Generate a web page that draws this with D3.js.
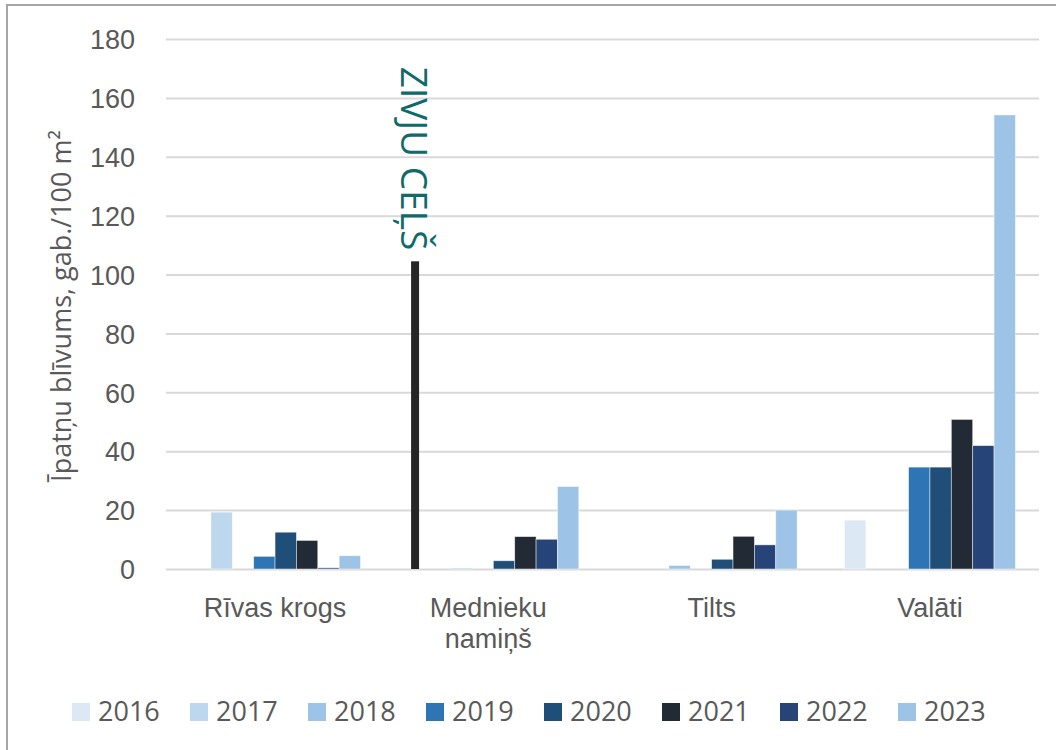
<!DOCTYPE html>
<html>
<head>
<meta charset="utf-8">
<script src="https://cdn.jsdelivr.net/npm/d3@7"></script>
<style>
  body { margin: 0; background: #fff; }
  svg { font-family: "Open Sans", sans-serif; }
</style>
</head>
<body>
<svg id="chart" width="1056" height="750"></svg>
<script>
const categories = ["Rīvas krogs", "Mednieku namiņš", "Tilts", "Valāti"];
const years = ["2016", "2017", "2018", "2019", "2020", "2021", "2022", "2023"];
const yTicks = [0, 20, 40, 60, 80, 100, 120, 140, 160, 180];

// values per year, in category order
const v2016 = [0, 0, 0, 16.6];
const v2017 = [19.3, 0, 0, 0];
const v2018 = [0, 0.3, 1.2, 0];
const v2019 = [4.3, 0, 0, 34.6];
const v2020 = [12.5, 2.8, 3.3, 34.6];
const v2021 = [9.7, 11.0, 11.1, 50.8];
const v2022 = [0.4, 10.1, 8.2, 41.9];
const v2023 = [4.5, 28.0, 20.0, 154.2];

// fish pass marker (drawn line) in "Mednieku namiņš"
const markerLabel = "ZIVJU CEĻŠ";
const markerValue = 104.5;

const colors = ["#dde8f5", "#bdd7ee", "#9dc3e6", "#2e75b6", "#1f4e79", "#222a35", "#264478", "#9dc3e6"];

const seriesValues = [v2016, v2017, v2018, v2019, v2020, v2021, v2022, v2023];

const svg = d3.select("#chart"),
  margin = { top: 39, right: 17, bottom: 181, left: 166 },
  width = +svg.attr("width") - margin.left - margin.right,
  height = +svg.attr("height") - margin.top - margin.bottom;

// outer frame
svg.append("rect")
  .attr("x", 7).attr("y", 5)
  .attr("width", 1070).attr("height", 780)
  .attr("fill", "none")
  .attr("stroke", "#a6a6a6")
  .attr("stroke-width", 2);

const chart = svg.append("g")
  .attr("transform", `translate(${margin.left},${margin.top})`);

const x0 = d3.scaleBand().domain(categories).range([0, width])
  .paddingInner(0.217).paddingOuter(0.108);
const x1 = d3.scaleBand().domain(years).range([0, x0.bandwidth()]);
const y = d3.scaleLinear().domain([0, 180]).range([height, 0]);

// grid + y labels
const yAxis = chart.append("g")
  .call(d3.axisLeft(y).tickValues(yTicks).tickSize(-width).tickPadding(31));
yAxis.select(".domain").remove();
yAxis.selectAll(".tick line").attr("stroke", "#d9d9d9").attr("stroke-width", 2);
yAxis.selectAll(".tick text")
  .attr("fill", "#595959")
  .style("font-size", "27px")
  .attr("dy", "0.36em");

// x labels
const xAxis = chart.append("g")
  .attr("transform", `translate(0,${height})`)
  .call(d3.axisBottom(x0).tickSize(0).tickPadding(29));
xAxis.select(".domain").remove();
xAxis.selectAll(".tick text")
  .attr("fill", "#595959")
  .style("font-size", "27px")
  .each(function (d) {
    const words = d.split(" ");
    if (d.length > 12) {
      const t = d3.select(this).text(null);
      words.forEach((w, i) => {
        t.append("tspan").attr("x", -5).attr("dy", i === 0 ? "0.71em" : "1.15em").text(w);
      });
    }
  });

// bars
const rows = [];
years.forEach((yr, si) => {
  categories.forEach((c, ci) => {
    rows.push({ year: yr, cat: c, value: seriesValues[si][ci], color: colors[si] });
  });
});

chart.append("g")
  .selectAll("rect")
  .data(rows.filter((d) => d.value > 0))
  .join("rect")
  .attr("x", (d) => x0(d.cat) + x1(d.year))
  .attr("y", (d) => y(d.value))
  .attr("width", x1.bandwidth())
  .attr("height", (d) => y(0) - y(d.value))
  .attr("fill", (d) => d.color)
  .attr("stroke", "#ffffff")
  .attr("stroke-opacity", 0.6)
  .attr("stroke-width", 0.75);

// fish pass marker line and label
const mx = x0(categories[1]) + x1(years[0]) + x1.bandwidth() * 0.15;
chart.append("rect")
  .attr("x", mx)
  .attr("y", y(markerValue))
  .attr("width", 8)
  .attr("height", y(0) - y(markerValue))
  .attr("fill", "#262626");

chart.append("text")
  .attr("transform", `translate(${mx - 10},${y(markerValue) - 11}) rotate(90)`)
  .attr("text-anchor", "end")
  .attr("fill", "#0f6b6b")
  .style("font-size", "37px")
  .text(markerLabel);

// y title
svg.append("text")
  .attr("transform", `translate(71,${margin.top + height / 2 + 2}) rotate(-90)`)
  .attr("text-anchor", "middle")
  .attr("fill", "#595959")
  .style("font-size", "27px")
  .text("Īpatņu blīvums, gab./100 m²");

// legend
const legend = svg.append("g").attr("transform", "translate(72,703)");
const item = legend.selectAll("g")
  .data(years)
  .join("g")
  .attr("transform", (d, i) => `translate(${i * 118},0)`);
item.append("rect")
  .attr("width", 18).attr("height", 18)
  .attr("fill", (d, i) => colors[i]);
item.append("text")
  .attr("x", 26).attr("y", 18)
  .attr("fill", "#595959")
  .style("font-size", "27px")
  .text((d) => d);
</script>
</body>
</html>
